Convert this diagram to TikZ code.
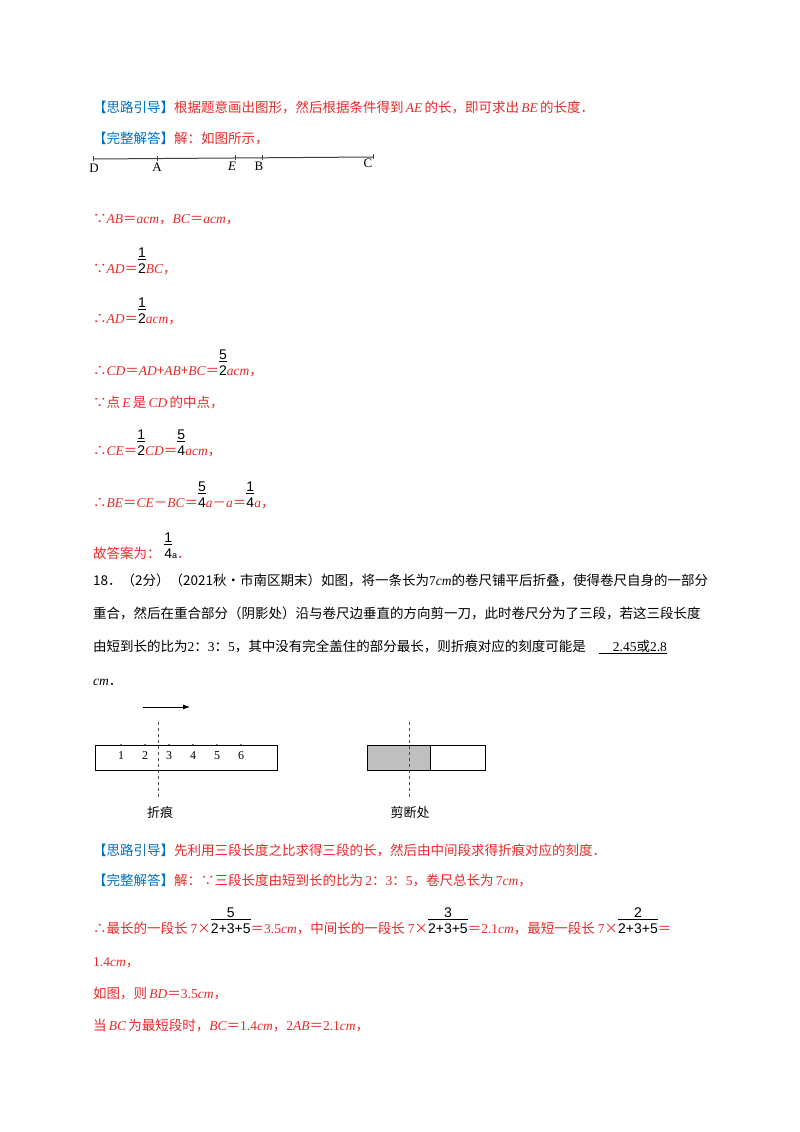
\documentclass[tikz,border=0pt]{standalone}
\usepackage{fontspec}
\usetikzlibrary{calc,arrows.meta}
\setmainfont{Noto Sans CJK SC}
\newfontfamily\tms{Liberation Serif}
\setsansfont{Liberation Sans}
\definecolor{rd}{RGB}{235,40,40}
\definecolor{bl}{RGB}{0,112,192}
\newcommand\mi[1]{{\tms\itshape #1}}
\newcommand\mr[1]{{\tms #1}}
\newcommand\hd[1]{\textcolor{bl}{#1}}
\newcommand\fr[2]{{\color{black}\sffamily\fontsize{14}{16}\selectfont\renewcommand\arraystretch{1.1}\begin{tabular}[b]{@{}c@{}}#1\\[-3pt]\hline\noalign{\vskip1pt}#2\end{tabular}}}
\begin{document}
\begin{tikzpicture}[x=1pt,y=-1pt,
  ln/.style={anchor=base west,inner sep=0pt,font=\fontsize{13.5}{16}\selectfont},
  red/.style={ln,text=rd},
  lbl/.style={anchor=north,inner sep=0pt,font=\tms\fontsize{13}{14}\selectfont},
  tick/.style={fill=black,circle,inner sep=0.8pt}]
\useasboundingbox (0,0) rectangle (800,1132);
\fill[white] (0,0) rectangle (800,1132);
\node[red] (l1) at (93,112) {\hd{【思路引导】}根据题意画出图形，然后根据条件得到\,\mi{AE}\,的长，即可求出\,\mi{BE}\,的长度．};
\node[red] (l2) at (93,143) {\hd{【完整解答】}解：如图所示，};
% segment
\coordinate (D) at (93,159); \coordinate (A) at (157,159); \coordinate (E) at (235,158);
\coordinate (B) at (262,158); \coordinate (C) at (373,157);
\draw[line width=1pt,black!75] (D) -- (C);
\foreach \p in {D,A,E,B,C}{\draw[black!75,line width=0.8pt] ($(\p)+(0,-3)$) -- ($(\p)+(0,2)$);}
\node[lbl] (tD) at (94,164) {D};
\node[lbl] (tA) at (157,163) {A};
\node[lbl] (tE) at (232,162) {\itshape E};
\node[lbl] (tB) at (259,162) {B};
\node[lbl] (tC) at (368,159) {C};
\node[red] (l3) at (93,223) {∵\mi{AB}＝\mi{acm}，\mi{BC}＝\mi{acm}，};
\node[red] (l4) at (93,273) {∵\mi{AD}＝\fr{1}{2}\mi{BC}，};
\node[red] (l5) at (93,323) {∴\mi{AD}＝\fr{1}{2}\mi{acm}，};
\node[red] (l6) at (93,375) {∴\mi{CD}＝\mi{AD}+\mi{AB}+\mi{BC}＝\fr{5}{2}\mi{acm}，};
\node[red] (l7) at (93,407) {∵点\,\mi{E}\,是\,\mi{CD}\,的中点，};
\node[red] (l8) at (93,455) {∴\mi{CE}＝\fr{1}{2}\mi{CD}＝\fr{5}{4}\mi{acm}，};
\node[red] (l9) at (93,507) {∴\mi{BE}＝\mi{CE}－\mi{BC}＝\fr{5}{4}\mi{a}－\mi{a}＝\fr{1}{4}\mi{a}，};
\node[red] (l10) at (93,558) {故答案为：\;\fr{1}{4}{\color{black}\sffamily\small a}．};
\node[ln] (q1) at (93,585) {18．（2分）（2021秋•市南区期末）如图，将一条长为\mr{7}\mi{cm}的卷尺铺平后折叠，使得卷尺自身的一部分};
\node[ln] (q2) at (93,618) {重合，然后在重合部分（阴影处）沿与卷尺边垂直的方向剪一刀，此时卷尺分为了三段，若这三段长度};
\node[ln] (q3) at (93,651) {由短到长的比为\mr{2}：\mr{3}：\mr{5}，其中没有完全盖住的部分最长，则折痕对应的刻度可能是\quad\underline{\quad\mr{2.45}或\mr{2.8}}};
\node[ln] (q4) at (93,685) {\mi{cm}．};
% figure
\coordinate (a1) at (143,707); \coordinate (a2) at (190,707);
\draw[-{Latex[length=7pt,width=5pt]},line width=0.8pt] (a1) -- (a2);
\node[draw,line width=0.8pt,minimum width=182pt,minimum height=25pt,anchor=north west,inner sep=0pt] (box1) at (95,745) {};
\foreach \n/\x in {1/121,2/145,3/169,4/193,5/217,6/241}{
  \node[tick,inner sep=0.7pt] (t\n) at (\x,745) {};
  \node[anchor=center,inner sep=0pt,font=\tms\fontsize{12}{13}\selectfont] (n\n) at (\x,756) {\n};}
\coordinate (d1) at (158,722); \coordinate (d2) at (158,797);
\draw[dashed,black!70] (d1) -- (d2);
\node[anchor=center,inner sep=0pt,font=\fontsize{13}{14}\selectfont] (zh) at (160,813) {折痕};
\node[draw,line width=0.8pt,minimum width=118pt,minimum height=25pt,anchor=north west,inner sep=0pt] (box2) at (367,745) {};
\filldraw[fill=black!25,line width=0.8pt] (367,745) rectangle (430,770);
\coordinate (d3) at (409,722); \coordinate (d4) at (409,797);
\draw[dashed,black!70] (d3) -- (d4);
\node[anchor=center,inner sep=0pt,font=\fontsize{13}{14}\selectfont] (jd) at (410,813) {剪断处};
\node[red] (m1) at (93,855) {\hd{【思路引导】}先利用三段长度之比求得三段的长，然后由中间段求得折痕对应的刻度．};
\node[red] (m2) at (93,885) {\hd{【完整解答】}解：∵三段长度由短到长的比为\,\mr{2}：\mr{3}：\mr{5}，卷尺总长为\,\mr{7}\mi{cm}，};
\node[red] (m3) at (93,933) {∴最长的一段长\ \mr{7}×\fr{5}{2+3+5}＝\mr{3.5}\mi{cm}，中间长的一段长\ \mr{7}×\fr{3}{2+3+5}＝\mr{2.1}\mi{cm}，最短一段长\ \mr{7}×\fr{2}{2+3+5}＝};
\node[red] (m4) at (93,966) {\mr{1.4}\mi{cm}，};
\node[red] (m5) at (93,998) {如图，则\,\mi{BD}＝\mr{3.5}\mi{cm}，};
\node[red] (m6) at (93,1030) {当\,\mi{BC}\,为最短段时，\mi{BC}＝\mr{1.4}\mi{cm}，\mr{2}\mi{AB}＝\mr{2.1}\mi{cm}，};
\end{tikzpicture}
\end{document}
